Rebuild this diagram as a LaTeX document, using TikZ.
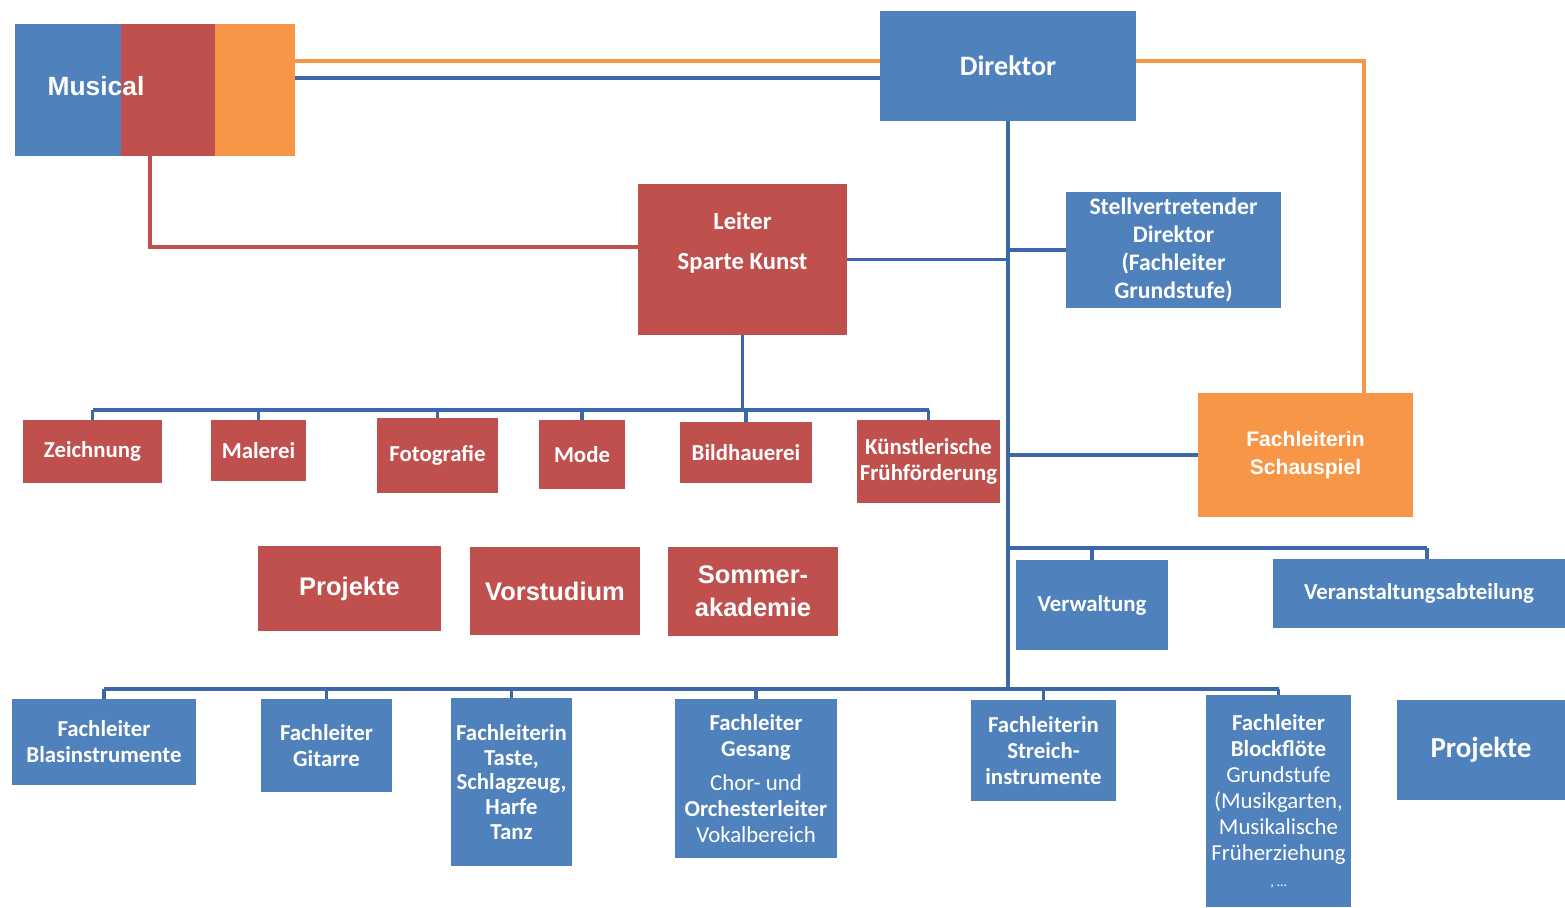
\documentclass[tikz,border=0pt]{standalone}
\usepackage{fontspec}
\newfontfamily\calfont{Carlito}
\newfontfamily\arifont{Liberation Sans}

\definecolor{orgblue}{RGB}{79,129,189}
\definecolor{orgred}{RGB}{192,80,77}
\definecolor{orgorange}{RGB}{247,150,70}
\definecolor{lineblue}{RGB}{60,103,168}

\tikzset{
  wh/.style n args={2}{minimum width=#1*0.02cm, minimum height=#2*0.02cm},
  box/.style={rectangle, inner sep=0pt, align=center, text=white},
  bbox/.style={box, fill=orgblue, font=\calfont\bfseries\fontsize{13}{14.8}\selectfont},
  rbox/.style={box, fill=orgred, font=\calfont\bfseries\fontsize{13}{14.8}\selectfont},
  big/.style={font=\arifont\bfseries\fontsize{14.5}{18.8}\selectfont},
  link/.style={line width=2pt, lineblue},
}

\begin{document}
\begin{tikzpicture}[x=0.02cm, y=-0.02cm]
	\useasboundingbox (0,0) rectangle (1565,907);
	% Musical
	\fill[orgblue] (15,24) rectangle (121,156);
	\fill[orgred] (121,24) rectangle (215,156);
	\fill[orgorange] (215,24) rectangle (295,156);
	\node[wh={280}{132}] (musical) at (155,90) {};
	\node[box, font=\arifont\bfseries\fontsize{15}{18}\selectfont] (musicaltxt) at (96,86) {Musical};

	\node[bbox, wh={256}{110}, font=\calfont\bfseries\fontsize{16}{19}\selectfont] (direktor) at (1008,66) {Direktor};
	\node[rbox, wh={209}{151}, label={[box, font=\calfont\bfseries\fontsize{14}{16.8}\selectfont, yshift=0.33cm]center:{Leiter\\[6pt]Sparte Kunst}}] (leiter) at (742.5,259.5) {};
	\node[bbox, wh={215}{116}, font=\calfont\bfseries\fontsize{13.5}{16}\selectfont] (stellv) at (1173.5,250) {Stellvertretender\\Direktor\\(Fachleiter\\Grundstufe)};

	% Sparte Kunst
	\node[rbox, wh={139}{63}] (zeichnung) at (92.5,451.5) {Zeichnung};
	\node[rbox, wh={95}{61}] (malerei) at (258.5,450.5) {Malerei};
	\node[rbox, wh={121}{75}] (fotografie) at (437.5,455.5) {Fotografie};
	\node[rbox, wh={86}{69}] (mode) at (582,454.5) {Mode};
	\node[rbox, wh={132}{61}] (bildhauerei) at (746,452.5) {Bildhauerei};
	\node[rbox, wh={143}{83}] (fruehfoerd) at (928.5,461.5) {Künstlerische\\Frühförderung};

	\node[rbox, big, wh={183}{85}] (projekte) at (349.5,588.5) {Projekte};
	\node[rbox, big, wh={170}{88}] (vorstudium) at (555,591) {Vorstudium};
	\node[rbox, big, wh={170}{89}] (sommer) at (753,591.5) {Sommer-\\akademie};

	\node[box, fill=orgorange, wh={215}{124}, font=\arifont\bfseries\fontsize{12}{16}\selectfont] (schauspiel) at (1305.5,455) {Fachleiterin\\Schauspiel};

	\node[bbox, wh={152}{90}] (verwaltung) at (1092,605) {Verwaltung};
	\node[bbox, wh={292}{69}] (veranst) at (1419,593.5) {Veranstaltungsabteilung};

	% Fachbereiche
	\node[bbox, wh={184}{86}] (blaeser) at (104,742) {Fachleiter\\Blasinstrumente};
	\node[bbox, wh={131}{93}] (gitarre) at (326.5,745.5) {Fachleiter\\Gitarre};
	\node[bbox, wh={121}{168}, font=\calfont\bfseries\fontsize{13}{14}\selectfont] (taste) at (511.5,782) {Fachleiterin\\Taste,\\Schlagzeug,\\Harfe\\Tanz};
	\node[bbox, wh={162}{159}] (gesang) at (756,778.5) {Fachleiter\\Gesang\\[5pt]{\mdseries Chor- und}\\Orchesterleiter\\{\mdseries Vokalbereich}};
	\node[bbox, wh={145}{101}] (streicher) at (1043.5,750.5) {Fachleiterin\\Streich-\\instrumente};
	\node[bbox, wh={145}{212}] (blockfloete) at (1278.5,801) {Fachleiter\\Blockflöte\\{\mdseries Grundstufe}\\{\mdseries (Musikgarten,}\\{\mdseries Musikalische}\\{\mdseries Früherziehung}\\{\mdseries\footnotesize , …}};
	\node[bbox, wh={168}{100}, font=\calfont\bfseries\fontsize{16.5}{19}\selectfont] (projekteb) at (1481,750) {Projekte};

	% Linien
	\draw[link, orgorange] ([yshift=0.1cm]direktor.west) -- ([yshift=0.1cm]direktor.west -| musical.east);
	\draw[link] ([yshift=-0.24cm]direktor.west) -- ([yshift=-0.24cm]direktor.west -| musical.east);
	\draw[link, orgorange] ([yshift=0.1cm]direktor.east) -| ([xshift=1.17cm]schauspiel.north);
	\draw[link, orgred] ([xshift=-0.1cm]musical.south) |- ([yshift=0.25cm]leiter.west);

	\coordinate (trunkend) at (1008,689);
	\draw[link] (direktor.south) -- (trunkend);
	\draw[link] (leiter.east) -- (leiter.east -| trunkend);
	\draw[link] (stellv.west -| trunkend) -- (stellv.west);
	\draw[link] (schauspiel.west -| trunkend) -- (schauspiel.west);

	\coordinate (artbus) at (742.5,410);
	\draw[link] (leiter.south) -- (artbus);
	\draw[link] (zeichnung.north |- artbus) -- (fruehfoerd.north |- artbus);
	\foreach \n in {zeichnung,malerei,fotografie,mode,bildhauerei,fruehfoerd}
		\draw[link] (\n.north |- artbus) -- (\n.north);

	\coordinate (adminbus) at (1008,548);
	\draw[link] (adminbus) -- ([xshift=0.16cm]veranst.north |- adminbus);
	\draw[link] (verwaltung.north |- adminbus) -- (verwaltung.north);
	\draw[link] ([xshift=0.16cm]veranst.north |- adminbus) -- ([xshift=0.16cm]veranst.north);

	\draw[link] (blaeser.north |- trunkend) -- (blockfloete.north |- trunkend);
	\foreach \n in {blaeser,gitarre,taste,gesang,streicher,blockfloete}
		\draw[link] (\n.north |- trunkend) -- (\n.north);
\end{tikzpicture}
\end{document}
